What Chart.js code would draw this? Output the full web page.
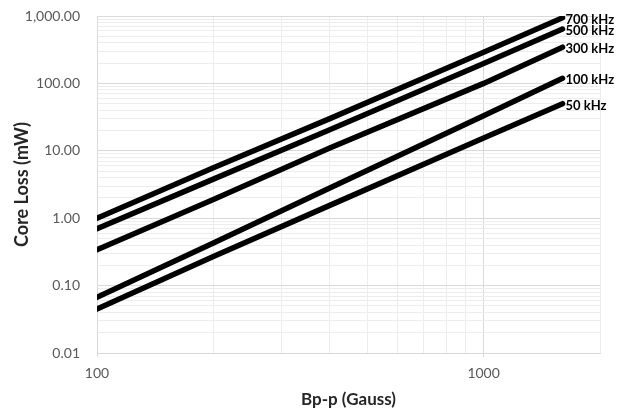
<!DOCTYPE html>
<html>
<head>
<meta charset="utf-8">
<script src="https://cdn.jsdelivr.net/npm/chart.js@4"></script>
<style>
  body { margin: 0; background: #fff; }
</style>
</head>
<body>
<canvas id="chart-core-loss" width="627" height="410"></canvas>
<script>
// flux density points (Gauss)
const fluxValues = [100, 200, 400, 1000, 1600];

const seriesNames = ['700 kHz', '500 kHz', '300 kHz', '100 kHz', '50 kHz'];
const loss700 = [1.0, 5.6, 30, 290, 940];
const loss500 = [0.7, 3.8, 20.5, 197, 640];
const loss300 = [0.34, 1.9, 11, 100, 345];
const loss100 = [0.067, 0.43, 2.8, 33, 119];
const loss50 = [0.045, 0.27, 1.55, 15.5, 50];

const xTickLabels = [100, 1000];
const yTickLabels = [0.01, 0.1, 1, 10, 100, 1000];

const allLosses = [loss700, loss500, loss300, loss100, loss50];

const isLabelled = (v, list) => list.some(l => Math.abs(v - l) / l < 1e-6);

// 1..9 times every decade between min and max
function logTicks(min, max) {
    const out = [];
    for (let e = Math.floor(Math.log10(min)); e <= Math.ceil(Math.log10(max)); e++) {
        for (let m = 1; m <= 9; m++) {
            const v = m * Math.pow(10, e);
            if (v >= min * 0.999 && v <= max * 1.001) out.push({ value: v, major: m === 1 });
        }
    }
    return out;
}

const seriesLabels = {
    id: 'seriesLabels',
    afterDatasetsDraw(chart) {
        const ctx = chart.ctx;
        ctx.save();
        ctx.font = 'bold 13px Lato';
        ctx.fillStyle = '#000';
        ctx.textAlign = 'left';
        ctx.textBaseline = 'middle';
        chart.data.datasets.forEach((ds, i) => {
            const pts = chart.getDatasetMeta(i).data;
            const last = pts[pts.length - 1];
            ctx.fillText(ds.label, last.x + 3, last.y + 2);
        });
        ctx.restore();
    }
};

const chartData = {
    datasets: seriesNames.map((name, i) => ({
        label: name,
        data: fluxValues.map((x, j) => ({ x: x, y: allLosses[i][j] })),
        borderColor: '#000',
        borderWidth: 5.5,
        borderCapStyle: 'round',
        pointRadius: 0,
        tension: 0,
        fill: false
    }))
};

const gridColor = c => (c.tick && c.tick.major) ? '#d9d9d9' : '#ededed';

const config = {
    type: 'line',
    data: chartData,
    options: {
        responsive: false,
        devicePixelRatio: 1,
        animation: false,
        layout: { padding: { top: 16, right: 27, left: 0, bottom: 0 } },
        plugins: {
            legend: { display: false },
            tooltip: { enabled: false }
        },
        scales: {
            x: {
                type: 'logarithmic',
                min: 100,
                max: 2000,
                afterBuildTicks: s => { s.ticks = logTicks(100, 2000); },
                afterFit: s => { s.height = 57; s.paddingLeft = 0; s.paddingRight = 0; },
                border: { color: '#d9d9d9' },
                grid: {
                    color: gridColor,
                    tickLength: 4,
                    tickColor: c => (c.tick && isLabelled(c.tick.value, xTickLabels)) ? '#d9d9d9' : 'rgba(0,0,0,0)'
                },
                ticks: {
                    autoSkip: false,
                    maxRotation: 0,
                    padding: 8,
                    color: '#595959',
                    font: { family: 'Lato', size: 14 },
                    callback: v => isLabelled(v, xTickLabels) ? String(v) : ''
                },
                title: {
                    display: true,
                    text: 'Bp-p (Gauss)',
                    color: '#262626',
                    font: { family: 'Lato', size: 17, weight: 'bold' },
                    padding: { top: 3, bottom: 0 }
                }
            },
            y: {
                type: 'logarithmic',
                min: 0.01,
                max: 1000,
                afterBuildTicks: s => { s.ticks = logTicks(0.01, 1000); },
                afterFit: s => { s.width = 97; s.paddingTop = 0; s.paddingBottom = 0; },
                border: { color: '#d9d9d9' },
                grid: {
                    color: gridColor,
                    drawTicks: false
                },
                ticks: {
                    autoSkip: false,
                    padding: 17,
                    color: '#595959',
                    font: { family: 'Lato', size: 14 },
                    callback: v => isLabelled(v, yTickLabels)
                        ? v.toLocaleString('en-US', { minimumFractionDigits: 2, maximumFractionDigits: 2 })
                        : ''
                },
                title: {
                    display: true,
                    text: 'Core Loss (mW)',
                    color: '#262626',
                    font: { family: 'Lato', size: 18, weight: 'bold' },
                    padding: { top: 11, bottom: 0 }
                }
            }
        }
    },
    plugins: [seriesLabels]
};

var chartCoreLoss = new Chart(document.getElementById('chart-core-loss'), config);
</script>
</body>
</html>
